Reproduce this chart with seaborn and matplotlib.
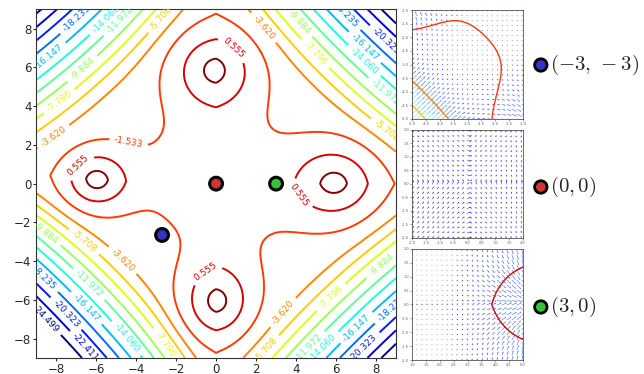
import matplotlib
matplotlib.use("Agg")
import matplotlib.pyplot as plt
import numpy as np
import seaborn as sns

# surface: four hills on the axes, falling steeply towards the corners
hill_x = [5.95, -6.0, -0.1, 0.05]
hill_y = [0.05, 0.2, 5.9, -6.1]
hill_height = [4.4, 4.55, 4.35, 4.5]
hill_radial = [4.4, 2.6, 4.0, 3.8]
hill_tangent = [3.8, 2.3, 4.3, 3.1]
cap_height = 0.5
cap_width = 0.4
floor_level = -0.3
gentle_slope = 0.2
steep_slope = 2.3
steep_start = 11.8
steep_soft = 0.6
norm_power = 0.8
left_ridge = 0.5

levels = [-24.499, -22.411, -20.323, -18.235, -16.147, -14.060, -11.972,
          -9.884, -7.796, -5.708, -3.620, -1.533, 0.555, 2.643]

point_x = [-2.7, 0.0, 3.0]
point_y = [-2.65, 0.0, 0.0]
point_names = [r"$(-3,\,-3)$", r"$(0,0)$", r"$(3,0)$"]
point_colors = ["#3434c4", "#d03434", "#36c236"]
window_x = [-3.0, 0.0, 3.0]
window_y = [-3.0, 0.0, 0.0]
window_half = 2.0


def field(x, y):
    v = y - left_ridge * (np.minimum(x, 0) / 9) ** 2
    nl = (1 - np.tanh(x / 3)) / 2
    nb = (1 - np.tanh(y / 3)) / 2
    L = (np.abs(x) ** norm_power + np.abs(v) ** norm_power) ** (1 / norm_power)
    L = L + 1.6 * nl * nb
    z = (floor_level - gentle_slope * L
         - steep_slope * steep_soft * np.logaddexp(0, (L - steep_start) / steep_soft))
    for hx, hy, h, sr, st in zip(hill_x, hill_y, hill_height, hill_radial, hill_tangent):
        dx, dy = x - hx, y - hy
        if abs(hx) > abs(hy):
            d2 = dx ** 2 / sr + dy ** 2 / st
        else:
            d2 = dx ** 2 / st + dy ** 2 / sr
        z = z + h * np.exp(-d2) + cap_height * np.exp(-(dx ** 2 + dy ** 2) / cap_width)
    return z


def grad(x, y, h=1e-3):
    gx = (field(x + h, y) - field(x - h, y)) / (2 * h)
    gy = (field(x, y + h) - field(x, y - h)) / (2 * h)
    return gx, gy


sns.set_style("ticks")
plt.rcParams["mathtext.fontset"] = "cm"
plt.rcParams["axes.edgecolor"] = "#333333"

fig = plt.figure(figsize=(6.44, 3.74), dpi=100)
ax = fig.add_axes([0.056, 0.043, 0.559, 0.932])

g = np.linspace(-9, 9, 300)
X, Y = np.meshgrid(g, g)
Z = field(X, Y)
cs = ax.contour(X, Y, Z, levels=levels, cmap="jet", vmin=levels[0], vmax=levels[-1], linewidths=1.4)
ax.clabel(cs, inline=True, fontsize=6.5, fmt="%.3f")
sns.scatterplot(x=point_x, y=point_y, hue=point_names, palette=point_colors, s=85,
                edgecolor="black", linewidth=2.2, legend=False, ax=ax, zorder=5)
ax.set_xlim(-9, 9)
ax.set_ylim(-9, 9)
ax.set_xticks(range(-8, 9, 2))
ax.set_yticks(range(-8, 9, 2))
ax.tick_params(labelsize=8.5, length=2.5, pad=0.8)

boxes = [[0.640, 0.682, 0.172, 0.291],
         [0.640, 0.364, 0.172, 0.289],
         [0.640, 0.037, 0.172, 0.298]]
blue_cyan = sns.blend_palette(["#1a1ae6", "#3c6cf0", "#7fd0ff", "#b0f0ff"], as_cmap=True)
for box, cx, cy in zip(boxes, window_x, window_y):
    sub = fig.add_axes(box)
    gs = np.linspace(-window_half, window_half, 200)
    SX, SY = np.meshgrid(cx + gs, cy + gs)
    sub.contour(SX, SY, field(SX, SY), levels=levels, cmap="jet",
                vmin=levels[0], vmax=levels[-1], linewidths=1.0)
    qs = np.arange(-window_half, window_half + 1e-9, 0.18)
    QX, QY = np.meshgrid(cx + qs, cy + qs)
    U, V = grad(QX, QY)
    M = np.hypot(U, V)
    sub.quiver(QX, QY, U, V, M, cmap=blue_cyan, clim=(0, 6), width=0.0045, headwidth=3,
               headlength=3, headaxislength=2.5)
    sub.set_xlim(cx - window_half, cx + window_half)
    sub.set_ylim(cy - window_half, cy + window_half)
    ticks_x = np.arange(cx - window_half, cx + window_half + 1e-9, 0.5)
    ticks_y = np.arange(cy - window_half, cy + window_half + 1e-9, 0.5)
    sub.set_xticks(ticks_x)
    sub.set_yticks(ticks_y)
    sub.set_xticklabels([f"{t:.1f}" for t in ticks_x])
    sub.set_yticklabels([f"{t:.1f}" for t in ticks_y])
    sub.tick_params(labelsize=2.5, length=1.2, width=0.4, pad=1, colors="#555555")
    for sp in sub.spines.values():
        sp.set_linewidth(0.5)

key = fig.add_axes([0.815, 0.0, 0.185, 1.0])
key.set_xlim(0, 1)
key.set_ylim(374, 0)
key.axis("off")
key_y = [65, 187, 307]
sns.scatterplot(x=[0.134] * 3, y=key_y, hue=point_names, palette=point_colors, s=80,
                edgecolor="black", linewidth=2.0, legend=False, ax=key, clip_on=False)
for yy, name in zip(key_y, point_names):
    key.text(0.215, yy, name, fontsize=15, va="center", ha="left")

fig.savefig("out.png", dpi=100)
